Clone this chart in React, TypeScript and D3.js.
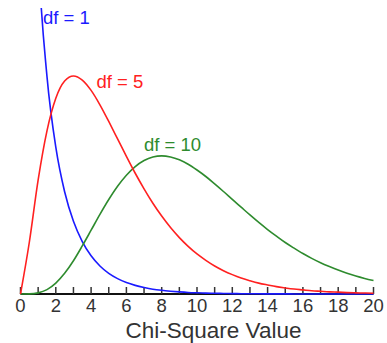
import React from 'react';
import {scaleLinear, line, curveMonotoneX, range} from 'd3';

// sample positions along the chi-square axis
const chiX = [0, 0.5, 1, 1.5, 2, 2.5, 3, 3.5, 4, 4.5, 5, 5.5, 6, 6.5, 7, 7.5, 8, 8.5, 9, 9.5, 10,
	10.5, 11, 11.5, 12, 12.5, 13, 13.5, 14, 14.5, 15, 15.5, 16, 16.5, 17, 17.5, 18, 18.5, 19, 19.5, 20];

// density at each sample
const df1Y = [null, 0.4394, 0.2420, 0.1539, 0.1038, 0.0723, 0.0514, 0.0371, 0.0270, 0.0198, 0.0146,
	0.0109, 0.0081, 0.0061, 0.0046, 0.0034, 0.0026, 0.0020, 0.0015, 0.0011, 0.00085,
	0.00065, 0.00049, 0.00037, 0.00029, 0.00022, 0.00017, 0.00013, 0.0001, 0.00008, 0.00006,
	0.00005, 0.00004, 0.00003, 0.00002, 0.00002, 0.00001, 0.00001, 0.00001, 0.00001, 0.00001];

const df5Y = [0, 0.0366, 0.0807, 0.1154, 0.1384, 0.1506, 0.1542, 0.1513, 0.1440, 0.1338, 0.1220,
	0.1097, 0.0973, 0.0854, 0.0744, 0.0642, 0.0551, 0.0470, 0.0399, 0.0337, 0.0283,
	0.0238, 0.0198, 0.0165, 0.0137, 0.0113, 0.0094, 0.0077, 0.0064, 0.0052, 0.0043,
	0.0035, 0.0029, 0.0023, 0.0019, 0.0015, 0.0013, 0.0010, 0.0008, 0.0007, 0.0005];

const df10Y = [0, 0.00006, 0.0008, 0.0031, 0.0077, 0.0146, 0.0235, 0.0340, 0.0451, 0.0563, 0.0668,
	0.0762, 0.0840, 0.0901, 0.0944, 0.0969, 0.0977, 0.0969, 0.0949, 0.0918, 0.0877,
	0.0831, 0.0779, 0.0725, 0.0669, 0.0614, 0.0559, 0.0506, 0.0456, 0.0409, 0.0364,
	0.0324, 0.0286, 0.0252, 0.0221, 0.0194, 0.0169, 0.0147, 0.0127, 0.0110, 0.0095];

const seriesNames = ['df = 1', 'df = 5', 'df = 10'];
const tickLabels = ['0', '2', '4', '6', '8', '10', '12', '14', '16', '18', '20'];

const W = 387, H = 343;
const colors = ['#1a1aff', '#ff2020', '#2e8b2e'];
// label anchor in data units (x, density)
const labelPos: [number, number][] = [[1.27, 0.191], [4.3, 0.146], [7.0, 0.1012]];

const scaleX = scaleLinear().domain([0, 20]).range([20.5, 373.5]);
const scaleY = scaleLinear().domain([0, 0.2]).range([294, 11.2]);

const lineGen = line<[number, number | null]>()
	.defined(d => d[1] !== null)
	.x(d => scaleX(d[0]))
	.y(d => scaleY(d[1] as number))
	.curve(curveMonotoneX);

const font = '"Liberation Sans", Arial, sans-serif';

export default function App() {
	const all = [df1Y, df5Y, df10Y];
	const base = scaleY(0);
	return (
		<svg width={W} height={H} style={{position: 'absolute', left: 0, top: 0, background: '#fff'}}>
			<defs>
				<clipPath id='plot'>
					<rect x={0} y={8} width={W} height={base + 4 - 8} />
				</clipPath>
			</defs>
			{/* axis */}
			<line x1={scaleX(0)} x2={scaleX(20)} y1={base} y2={base} stroke='#111' strokeWidth={2} />
			{range(0, 21).map(t =>
				<line key={t} x1={scaleX(t)} x2={scaleX(t)} y1={base} y2={base - 7} stroke='#333' strokeWidth={1.5} />
			)}
			{tickLabels.map(t =>
				<text key={t} x={scaleX(+t)} y={312} textAnchor='middle' fontFamily={font} fontSize={18.5} fill='#333'>{t}</text>
			)}
			<text x={213.5} y={337.5} textAnchor='middle' fontFamily={font} fontSize={22.5} fill='#333'>Chi-Square Value</text>
			{/* curves */}
			<g clipPath='url(#plot)'>
				{[0, 2, 1].map(i =>
					<path key={i} d={lineGen(chiX.map((x, j) => [x, all[i][j]]) as [number, number | null][]) || ''}
						fill='none' stroke={colors[i]} strokeWidth={1.6} />
				)}
			</g>
			{seriesNames.map((s, i) =>
				<text key={s} x={scaleX(labelPos[i][0])} y={scaleY(labelPos[i][1])} fontFamily={font} fontSize={18.5} fill={colors[i]}>{s}</text>
			)}
		</svg>
	);
}
